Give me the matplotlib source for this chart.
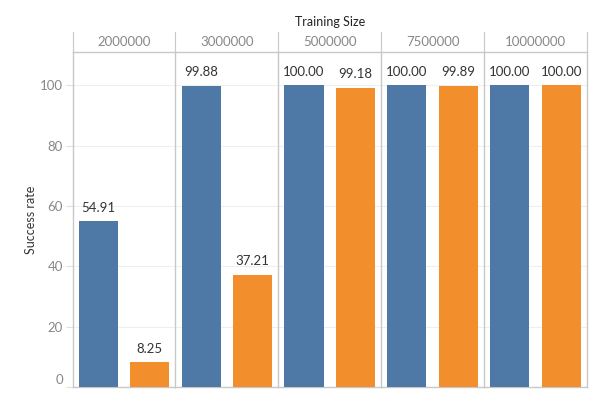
import matplotlib.pyplot as plt
from matplotlib.transforms import ScaledTranslation

plt.rcParams['font.family'] = ['Lato', 'DejaVu Sans']

# data
training_sizes = ['2000000', '3000000', '5000000', '7500000', '10000000']
blue_values = [54.91, 99.88, 100.00, 100.00, 100.00]
orange_values = [8.25, 37.21, 99.18, 99.89, 100.00]
y_ticks = [0, 20, 40, 60, 80, 100]

blue = '#4e79a7'
orange = '#f28e2b'
line_col = '#c8c8c8'

W, H = 599, 399
fig = plt.figure(figsize=(W / 100, H / 100), dpi=100)

left_px, right_px = 72.5, 587
top_px, bottom_px = 52, 387
head_top_px = 32
panel_w = (right_px - left_px) / len(training_sizes)

for i, size in enumerate(training_sizes):
    x0 = (left_px + i * panel_w) / W
    ax = fig.add_axes([x0, 1 - bottom_px / H, panel_w / W, (bottom_px - top_px) / H])
    vals = [blue_values[i], orange_values[i]]
    bars = ax.bar([0, 1], vals, width=0.76, color=[blue, orange], zorder=3)
    for b, v in zip(bars, vals):
        ax.text(b.get_x() + b.get_width() / 2, v + 2.5, f'{v:.2f}', ha='center', va='bottom',
                fontsize=9.5, color='#333333')
    ax.set_xlim(-0.5, 1.5)
    ax.set_ylim(0, 111)
    ax.set_xticks([])
    ax.set_yticks(y_ticks)
    ax.grid(axis='y', color='#efefef', linewidth=0.8, zorder=0)
    for s in ['left', 'top', 'bottom', 'right']:
        ax.spines[s].set_color(line_col)
        ax.spines[s].set_linewidth(1)
    ax.spines['right'].set_visible(i == len(training_sizes) - 1)
    if i == 0:
        ax.tick_params(axis='y', length=5, color='#e0e0e0', labelcolor='#888888', labelsize=9.5, pad=2)
        ax.set_ylabel('Success rate', fontsize=9, color='#333333', labelpad=2)
        # tableau nudges the bottom tick label up inside the pane
        fig.canvas.draw()
        lbl = ax.get_yticklabels()[0]
        lbl.set_transform(lbl.get_transform() + ScaledTranslation(0, 8 / 100, fig.dpi_scale_trans))
    else:
        ax.tick_params(axis='y', length=0, labelleft=False)

    # column header cell
    hx = fig.add_axes([x0, 1 - top_px / H, panel_w / W, (top_px - head_top_px) / H])
    hx.set_xticks([])
    hx.set_yticks([])
    hx.patch.set_alpha(0)
    for s in ['top', 'bottom']:
        hx.spines[s].set_visible(False)
    hx.spines['left'].set_color(line_col)
    hx.spines['right'].set_color(line_col)
    hx.spines['right'].set_visible(i == len(training_sizes) - 1)
    hx.text(0.5, 0.5, size, ha='center', va='center', fontsize=9.5, color='#888888',
            transform=hx.transAxes)

fig.text((left_px + right_px) / 2 / W, 1 - 22 / H, 'Training Size', ha='center', va='center',
         fontsize=9, color='#222222')

fig.savefig('out.png', dpi=100)
